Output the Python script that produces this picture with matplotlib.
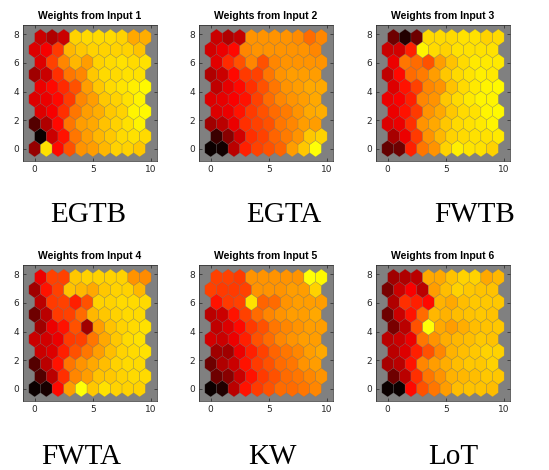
import numpy as np
import matplotlib
matplotlib.use("Agg")
import matplotlib.pyplot as plt
from matplotlib.patches import Polygon
from matplotlib.colors import ListedColormap

# SOM weight planes, 10x10 hex grid, rows listed from top (row 9) to bottom (row 0)
w1 = [
    [0.38, 0.33, 0.38, 0.90, 0.92, 0.92, 0.92, 0.90, 0.82, 0.83],
    [0.42, 0.47, 0.60, 0.85, 0.88, 0.90, 0.90, 0.90, 0.90, 0.87],
    [0.42, 0.62, 0.75, 0.85, 0.80, 0.90, 0.92, 0.93, 0.92, 0.93],
    [0.30, 0.38, 0.58, 0.72, 0.75, 0.88, 0.92, 0.92, 0.93, 0.93],
    [0.45, 0.50, 0.57, 0.65, 0.80, 0.88, 0.92, 0.94, 0.96, 0.98],
    [0.42, 0.45, 0.50, 0.60, 0.75, 0.80, 0.88, 0.90, 0.93, 0.97],
    [0.42, 0.47, 0.58, 0.72, 0.80, 0.83, 0.88, 0.90, 0.97, 0.98],
    [0.15, 0.33, 0.50, 0.72, 0.80, 0.82, 0.87, 0.90, 0.93, 0.97],
    [0.00, 0.38, 0.52, 0.72, 0.80, 0.85, 0.88, 0.92, 0.93, 0.92],
    [0.28, 0.93, 0.50, 0.65, 0.78, 0.80, 0.85, 0.90, 0.90, 0.88],
]
w2 = [
    [0.38, 0.33, 0.37, 0.78, 0.78, 0.78, 0.78, 0.76, 0.70, 0.75],
    [0.40, 0.45, 0.50, 0.75, 0.78, 0.78, 0.78, 0.78, 0.78, 0.75],
    [0.43, 0.57, 0.65, 0.75, 0.65, 0.75, 0.78, 0.78, 0.78, 0.78],
    [0.33, 0.38, 0.50, 0.60, 0.62, 0.72, 0.78, 0.80, 0.80, 0.80],
    [0.36, 0.44, 0.50, 0.58, 0.65, 0.72, 0.78, 0.80, 0.82, 0.82],
    [0.42, 0.44, 0.48, 0.52, 0.62, 0.70, 0.75, 0.78, 0.80, 0.82],
    [0.42, 0.45, 0.52, 0.60, 0.65, 0.70, 0.73, 0.78, 0.82, 0.83],
    [0.30, 0.35, 0.45, 0.58, 0.62, 0.65, 0.72, 0.75, 0.80, 0.80],
    [0.10, 0.25, 0.40, 0.58, 0.62, 0.68, 0.73, 0.78, 0.88, 0.90],
    [0.00, 0.02, 0.35, 0.55, 0.62, 0.65, 0.68, 0.80, 0.88, 1.00],
]
w3 = [
    [0.20, 0.05, 0.20, 0.92, 0.92, 0.92, 0.93, 0.93, 0.90, 0.92],
    [0.38, 0.40, 0.55, 0.97, 0.92, 0.90, 0.93, 0.93, 0.93, 0.93],
    [0.45, 0.72, 0.70, 0.65, 0.80, 0.87, 0.92, 0.95, 0.95, 0.95],
    [0.36, 0.50, 0.70, 0.73, 0.80, 0.88, 0.92, 0.94, 0.96, 0.95],
    [0.42, 0.52, 0.62, 0.75, 0.78, 0.87, 0.92, 0.95, 0.97, 0.98],
    [0.45, 0.48, 0.55, 0.75, 0.78, 0.88, 0.92, 0.95, 0.97, 0.97],
    [0.45, 0.52, 0.60, 0.78, 0.82, 0.88, 0.92, 0.93, 0.97, 0.98],
    [0.42, 0.45, 0.58, 0.78, 0.82, 0.88, 0.92, 0.93, 0.95, 0.97],
    [0.32, 0.45, 0.60, 0.78, 0.85, 0.90, 0.92, 0.93, 0.93, 0.95],
    [0.18, 0.20, 0.55, 0.72, 0.78, 0.90, 0.96, 0.94, 0.93, 0.90],
]
w4 = [
    [0.45, 0.62, 0.62, 0.88, 0.90, 0.90, 0.90, 0.90, 0.78, 0.76],
    [0.30, 0.52, 0.62, 0.87, 0.85, 0.82, 0.88, 0.90, 0.90, 0.85],
    [0.35, 0.60, 0.62, 0.55, 0.65, 0.90, 0.90, 0.92, 0.92, 0.92],
    [0.20, 0.35, 0.60, 0.62, 0.70, 0.85, 0.88, 0.90, 0.92, 0.92],
    [0.30, 0.45, 0.52, 0.65, 0.30, 0.80, 0.87, 0.90, 0.92, 0.93],
    [0.38, 0.40, 0.45, 0.60, 0.62, 0.72, 0.82, 0.88, 0.92, 0.93],
    [0.38, 0.42, 0.55, 0.65, 0.72, 0.80, 0.86, 0.90, 0.92, 0.93],
    [0.15, 0.35, 0.52, 0.72, 0.78, 0.82, 0.86, 0.90, 0.92, 0.92],
    [0.15, 0.35, 0.58, 0.75, 0.80, 0.87, 0.88, 0.90, 0.92, 0.92],
    [0.00, 0.03, 0.50, 0.80, 1.00, 0.88, 0.93, 0.90, 0.90, 0.90],
]
w5 = [
    [0.62, 0.62, 0.60, 0.78, 0.78, 0.78, 0.78, 0.78, 1.00, 0.98],
    [0.62, 0.60, 0.60, 0.62, 0.78, 0.78, 0.78, 0.80, 0.80, 0.90],
    [0.52, 0.60, 0.62, 0.93, 0.68, 0.70, 0.78, 0.80, 0.80, 0.80],
    [0.35, 0.38, 0.52, 0.62, 0.70, 0.75, 0.78, 0.80, 0.80, 0.82],
    [0.36, 0.42, 0.50, 0.60, 0.65, 0.72, 0.75, 0.78, 0.80, 0.80],
    [0.40, 0.38, 0.45, 0.55, 0.65, 0.70, 0.75, 0.78, 0.80, 0.80],
    [0.30, 0.30, 0.45, 0.55, 0.62, 0.68, 0.72, 0.75, 0.80, 0.82],
    [0.20, 0.33, 0.38, 0.52, 0.60, 0.65, 0.70, 0.72, 0.78, 0.80],
    [0.20, 0.25, 0.38, 0.52, 0.60, 0.65, 0.70, 0.72, 0.75, 0.78],
    [0.00, 0.05, 0.35, 0.52, 0.60, 0.65, 0.70, 0.70, 0.72, 0.75],
]
w6 = [
    [0.30, 0.33, 0.35, 0.82, 0.82, 0.87, 0.90, 0.90, 0.82, 0.85],
    [0.22, 0.38, 0.48, 0.35, 0.80, 0.86, 0.90, 0.88, 0.87, 0.87],
    [0.33, 0.58, 0.55, 0.50, 0.84, 0.82, 0.86, 0.88, 0.88, 0.88],
    [0.20, 0.38, 0.52, 0.70, 0.85, 0.84, 0.86, 0.87, 0.88, 0.87],
    [0.22, 0.35, 0.65, 1.00, 0.82, 0.80, 0.83, 0.86, 0.87, 0.88],
    [0.35, 0.38, 0.45, 0.72, 0.78, 0.83, 0.85, 0.86, 0.88, 0.87],
    [0.35, 0.42, 0.55, 0.65, 0.75, 0.84, 0.86, 0.88, 0.90, 0.90],
    [0.32, 0.35, 0.52, 0.75, 0.80, 0.83, 0.86, 0.88, 0.88, 0.90],
    [0.20, 0.35, 0.58, 0.72, 0.78, 0.84, 0.85, 0.86, 0.88, 0.88],
    [0.00, 0.00, 0.50, 0.65, 0.72, 0.80, 0.86, 0.87, 0.87, 0.86],
]

planes = [w1, w2, w3, w4, w5, w6]
titles = ["Weights from Input %d" % i for i in range(1, 7)]
names = ["EGTB", "EGTA", "FWTB", "FWTA", "KW", "LoT"]

# black -> red -> yellow part of 'hot'
cmap = ListedColormap(plt.cm.hot(np.linspace(0, 0.75, 256)))

shapex = np.array([-1, 0, 1, 1, 0, -1]) * 0.5
shapey = np.array([1, 2, 1, -1, -2, -1]) * np.sqrt(0.75) / 3

fig = plt.figure(figsize=(5.49, 4.70), dpi=100)
W, H = 549.0, 470.0
lefts = [23, 199, 376]
tops = [25, 265]
ax_w, ax_h = 134, 136

# big labels (centre x, baseline y) in pixels
label_pos = [(88, 222), (284, 222), (475, 222), (81, 464), (272, 464), (453, 464)]

for k, plane in enumerate(planes):
    r, c = divmod(k, 3)
    ax = fig.add_axes([lefts[c] / W, 1 - (tops[r] + ax_h) / H, ax_w / W, ax_h / H])
    ax.set_facecolor((0.5, 0.5, 0.5))
    vals = np.array(plane)[::-1]  # row 0 at the bottom
    for row in range(10):
        for col in range(10):
            x = col + 0.5 * (row % 2)
            y = row * np.sqrt(0.75)
            poly = Polygon(np.column_stack([x + shapex, y + shapey]), closed=True,
                           facecolor=cmap(vals[row, col]),
                           edgecolor=(0.45, 0.45, 0.45, 0.35), linewidth=0.4)
            ax.add_patch(poly)
    ax.set_xlim(-1, 10.5)
    ax.set_ylim(-np.sqrt(0.75), 10 * np.sqrt(0.75))
    ax.set_xticks([0, 5, 10])
    ax.set_yticks([0, 2, 4, 6, 8])
    ax.tick_params(direction="in", length=2.5, width=0.5, labelsize=6.5,
                   colors="#262626", top=True, right=True, pad=3)
    for s in ax.spines.values():
        s.set_linewidth(0.5)
        s.set_color("#262626")
    ax.set_title(titles[k], fontsize=7.5, fontweight="bold", pad=4,
                 family="Liberation Sans")
    lx, ly = label_pos[k]
    fig.text(lx / W, 1 - ly / H, names[k], ha="center", va="baseline",
             fontsize=21, family="Liberation Serif")

fig.savefig("out.png", dpi=100)
